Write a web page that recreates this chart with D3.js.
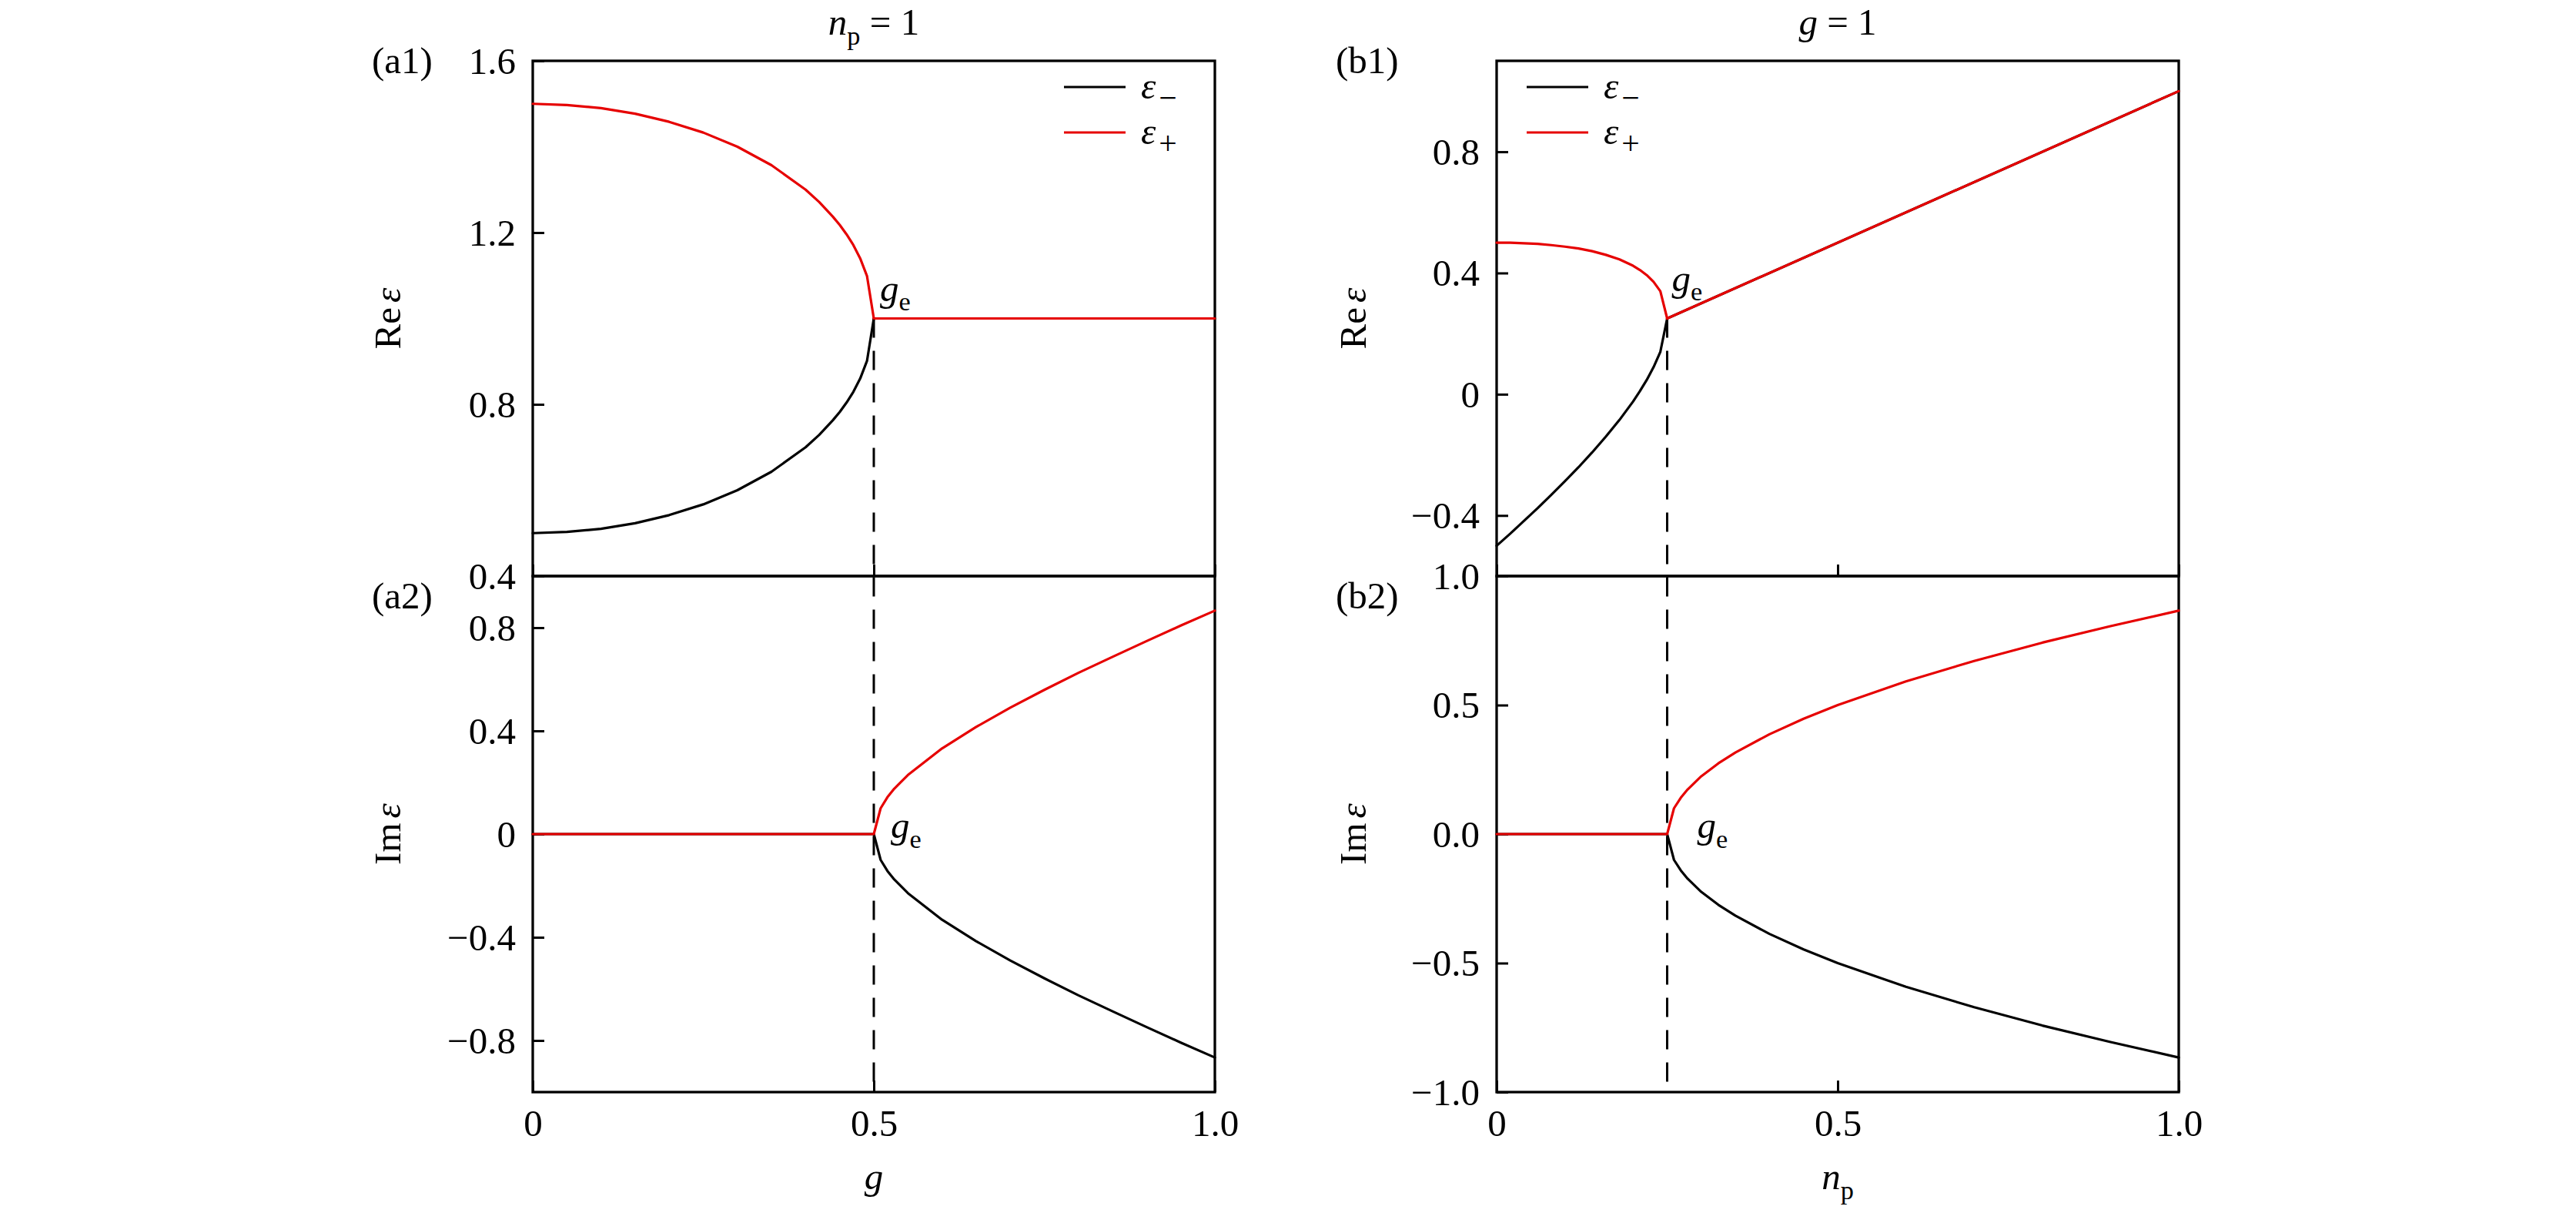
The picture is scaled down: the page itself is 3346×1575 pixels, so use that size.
<!DOCTYPE html>
<html><head><meta charset="utf-8">
<script src="https://cdn.jsdelivr.net/npm/d3@7"></script>
<style>
body{margin:0;background:#fff;}
svg{display:block;}
text{font-family:"Liberation Serif","DejaVu Serif",serif;fill:#000;}
</style>
</head><body>
<svg id="c" width="3346" height="1575"></svg>
<script>
// ---------------- DATA ----------------
// Panel (a): n_p = 1, variable g
const gBranchA   = [0,0.05,0.1,0.15,0.2,0.25,0.3,0.35,0.4,0.42,0.44,0.45,0.46,0.47,0.48,0.49,0.5];
const reMinusA   = [0.5,0.503,0.510,0.523,0.542,0.567,0.600,0.643,0.700,0.729,0.763,0.782,0.804,0.829,0.860,0.901,1.0];
const rePlusA    = [1.5,1.497,1.490,1.477,1.458,1.433,1.400,1.357,1.300,1.271,1.237,1.218,1.196,1.171,1.140,1.099,1.0];
const gFlatA     = [0.5,1.0];
const reFlatA    = [1.0,1.0];
const gImA       = [0,0.5,0.51,0.52,0.53,0.55,0.6,0.65,0.7,0.75,0.8,0.85,0.9,0.95,1.0];
const imPlusA    = [0,0,0.100,0.143,0.176,0.229,0.332,0.415,0.490,0.559,0.625,0.687,0.748,0.808,0.866];
const imMinusA   = [0,0,-0.100,-0.143,-0.176,-0.229,-0.332,-0.415,-0.490,-0.559,-0.625,-0.687,-0.748,-0.808,-0.866];
const geA = {x:0.5, re:1.0, im:0};

// Panel (b): g = 1, variable n_p
const npBranchB  = [0,0.02,0.04,0.06,0.08,0.1,0.12,0.14,0.16,0.18,0.2,0.21,0.22,0.23,0.24,0.25];
const reMinusB   = [-0.5,-0.460,-0.418,-0.376,-0.332,-0.287,-0.241,-0.192,-0.140,-0.085,-0.024,0.010,0.047,0.089,0.140,0.25];
const rePlusB    = [0.5,0.500,0.498,0.496,0.492,0.487,0.481,0.472,0.460,0.445,0.424,0.410,0.393,0.371,0.340,0.25];
const npLinB     = [0.25,1.0];
const reLinB     = [0.25,1.0];
const npImB      = [0,0.25,0.26,0.27,0.28,0.3,0.325,0.35,0.4,0.45,0.5,0.6,0.7,0.8,0.9,1.0];
const imPlusB    = [0,0,0.100,0.141,0.173,0.224,0.274,0.316,0.387,0.447,0.5,0.592,0.671,0.742,0.806,0.866];
const imMinusB   = [0,0,-0.100,-0.141,-0.173,-0.224,-0.274,-0.316,-0.387,-0.447,-0.5,-0.592,-0.671,-0.742,-0.806,-0.866];
const geB = {x:0.25, re:0.25, im:0};

// Ticks
const xTickVals   = [0,0.5,1.0];
const xTickLabels = ["0","0.5","1.0"];
const a1TickVals  = [0.4,0.8,1.2,1.6];
const a1TickLabels= ["0.4","0.8","1.2","1.6"];
const a2TickVals  = [-0.8,-0.4,0,0.4,0.8];
const a2TickLabels= ["\u22120.8","\u22120.4","0","0.4","0.8"];
const b1TickVals  = [-0.4,0,0.4,0.8];
const b1TickLabels= ["\u22120.4","0","0.4","0.8"];
const b2TickVals  = [-1,-0.5,0,0.5,1];
const b2TickLabels= ["\u22121.0","\u22120.5","0.0","0.5","1.0"];

const legendNames = [["\u03B5","\u2212"],["\u03B5","+"]];

// ---------------- LAYOUT ----------------
const RED = "#e60000";
const FS = 49;
const pTop = 79, pMid = 748, pBot = 1418;
const lefts = [692, 1944], pw = 886;
const svg = d3.select("#c");

function mtext(g, x, y, parts, anchor, size) {
  size = size || FS;
  const t = g.append("text").attr("x", x).attr("y", y)
    .attr("text-anchor", anchor || "start").attr("font-size", size);
  let shift = 0;
  parts.forEach(p => {
    const s = t.append("tspan").text(p.t);
    if (p.it) s.attr("font-style", "italic");
    if (p.sub) {
      s.attr("font-size", size * (p.scale || 0.7)).attr("dy", (0.26*size - shift));
      shift = 0.26*size;
    } else {
      if (shift) { s.attr("dy", -shift); shift = 0; }
    }
    if (p.dx) s.attr("dx", p.dx);
  });
  return t;
}

function drawAxesBox(g, x, y, yVals, yLabels, showXLabels) {
  g.append("g").attr("transform", `translate(${x.range()[0]},0)`)
    .call(d3.axisLeft(y).tickValues(yVals).tickFormat((d,i)=>yLabels[i])
      .tickSizeInner(-15).tickSizeOuter(0).tickPadding(22))
    .call(s => { s.select(".domain").remove();
      s.selectAll("line").attr("stroke-width",3);
      s.selectAll("text").attr("font-size",FS).attr("font-family",null).attr("dy","0.33em"); });
  const xa = d3.axisBottom(x).tickValues(xTickVals).tickFormat((d,i)=>showXLabels?xTickLabels[i]:"")
      .tickSizeInner(-15).tickSizeOuter(0).tickPadding(25);
  g.append("g").attr("transform", `translate(0,${y.range()[0]})`).call(xa)
    .call(s => { s.select(".domain").remove();
      s.selectAll("line").attr("stroke-width",3);
      s.selectAll("text").attr("font-size",FS).attr("font-family",null).attr("dy","0.66em"); });
  g.append("rect").attr("x", x.range()[0]).attr("y", y.range()[1])
    .attr("width", x.range()[1]-x.range()[0]).attr("height", y.range()[0]-y.range()[1])
    .attr("fill","none").attr("stroke","#000").attr("stroke-width",3.3);
}

function drawLine(g, x, y, xs, ys, color) {
  const line = d3.line().x((d,i)=>x(xs[i])).y(d=>y(d)).curve(d3.curveLinear);
  g.append("path").attr("d", line(ys)).attr("fill","none").attr("stroke",color)
    .attr("stroke-width",3.2).attr("stroke-linejoin","round").attr("stroke-linecap","round");
}

function drawLegend(g, x0, y0) {
  [["#000",0],[RED,1]].forEach(([c,i]) => {
    const yy = y0 + i*59;
    g.append("line").attr("x1",x0).attr("x2",x0+80).attr("y1",yy).attr("y2",yy)
      .attr("stroke",c).attr("stroke-width",3.2);
    mtext(g, x0+100, yy+15, [{t:legendNames[i][0], it:true},{t:legendNames[i][1], sub:true, scale:0.85, dx:4}], "start");
  });
}

// ---------------- PANEL A ----------------
{
  const g = svg.append("g");
  const x = d3.scaleLinear().domain([0,1]).range([lefts[0], lefts[0]+pw]);
  const y1 = d3.scaleLinear().domain([0.4,1.6]).range([pMid, pTop]);
  const y2 = d3.scaleLinear().domain([-1,1]).range([pBot, pMid]);
  drawAxesBox(g, x, y1, a1TickVals, a1TickLabels, false);
  drawAxesBox(g, x, y2, a2TickVals, a2TickLabels, true);
  g.append("line").attr("x1",x(geA.x)).attr("x2",x(geA.x)).attr("y1",y1(geA.re)).attr("y2",y2(-1))
    .attr("stroke","#000").attr("stroke-width",3).attr("stroke-dasharray","25,17");
  drawLine(g, x, y1, gBranchA, reMinusA, "#000");
  drawLine(g, x, y1, gFlatA, reFlatA, "#000");
  drawLine(g, x, y1, gBranchA, rePlusA, RED);
  drawLine(g, x, y1, gFlatA, reFlatA, RED);
  drawLine(g, x, y2, gImA, imMinusA, "#000");
  drawLine(g, x, y2, gImA, imPlusA, RED);
  drawLegend(g, 1382, 113);
  mtext(g, x(geA.x)+8, y1(geA.re)-23, [{t:"g",it:true},{t:"e",sub:true}]);
  mtext(g, x(geA.x)+22, y2(geA.im)+5, [{t:"g",it:true},{t:"e",sub:true}]);
  mtext(g, 483, 95, [{t:"(a1)"}]);
  mtext(g, 483, 790, [{t:"(a2)"}]);
  mtext(g, x(0.5), 45, [{t:"n",it:true},{t:"p",sub:true},{t:" = 1"}], "middle");
  mtext(g, x(0.5), 1544, [{t:"g",it:true}], "middle");
  const l1 = g.append("g").attr("transform",`translate(520,${(pTop+pMid)/2}) rotate(-90)`);
  mtext(l1, 0, 0, [{t:"Re"},{t:"\u03B5",it:true,dx:6}], "middle");
  const l2 = g.append("g").attr("transform",`translate(520,${(pMid+pBot)/2}) rotate(-90)`);
  mtext(l2, 0, 0, [{t:"Im"},{t:"\u03B5",it:true,dx:6}], "middle");
}

// ---------------- PANEL B ----------------
{
  const g = svg.append("g");
  const x = d3.scaleLinear().domain([0,1]).range([lefts[1], lefts[1]+pw]);
  const y1 = d3.scaleLinear().domain([-0.6,1.1]).range([pMid, pTop]);
  const y2 = d3.scaleLinear().domain([-1,1]).range([pBot, pMid]);
  drawAxesBox(g, x, y1, b1TickVals, b1TickLabels, false);
  drawAxesBox(g, x, y2, b2TickVals, b2TickLabels, true);
  g.append("line").attr("x1",x(geB.x)).attr("x2",x(geB.x)).attr("y1",y1(geB.re)).attr("y2",y2(-1))
    .attr("stroke","#000").attr("stroke-width",3).attr("stroke-dasharray","25,17");
  drawLine(g, x, y1, npBranchB, reMinusB, "#000");
  drawLine(g, x, y1, npLinB, reLinB, "#000");
  drawLine(g, x, y1, npBranchB, rePlusB, RED);
  drawLine(g, x, y1, npLinB, reLinB, RED);
  drawLine(g, x, y2, npImB, imMinusB, "#000");
  drawLine(g, x, y2, npImB, imPlusB, RED);
  drawLegend(g, 1983, 113);
  mtext(g, x(geB.x)+6, y1(geB.re)-36, [{t:"g",it:true},{t:"e",sub:true}]);
  mtext(g, x(geB.x)+39, y2(geB.im)+5, [{t:"g",it:true},{t:"e",sub:true}]);
  mtext(g, 1735, 95, [{t:"(b1)"}]);
  mtext(g, 1735, 790, [{t:"(b2)"}]);
  mtext(g, x(0.5), 45, [{t:"g",it:true},{t:" = 1"}], "middle");
  mtext(g, x(0.5), 1544, [{t:"n",it:true},{t:"p",sub:true}], "middle");
  const l1 = g.append("g").attr("transform",`translate(1774,${(pTop+pMid)/2}) rotate(-90)`);
  mtext(l1, 0, 0, [{t:"Re"},{t:"\u03B5",it:true,dx:6}], "middle");
  const l2 = g.append("g").attr("transform",`translate(1774,${(pMid+pBot)/2}) rotate(-90)`);
  mtext(l2, 0, 0, [{t:"Im"},{t:"\u03B5",it:true,dx:6}], "middle");
}
</script>
</body></html>
